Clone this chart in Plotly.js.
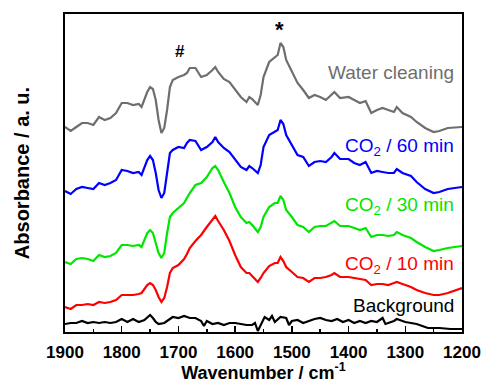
<!DOCTYPE html>
<html><head><meta charset="utf-8">
<script src="https://cdn.plot.ly/plotly-3.0.1.min.js"></script>
<style>html,body{margin:0;padding:0;background:#fff}#plot{width:482px;height:383px}</style>
</head><body><div id="plot"></div>
<script>
const waveWater = [1900,1890,1880,1870,1860,1850,1840,1830,1820,1810,1800,1790,1780,1770,1765,1755,1750,1745,1740,1735,1730,1725,1720,1715,1710,1700,1690,1685,1680,1670,1660,1650,1640,1635,1630,1620,1610,1600,1590,1580,1575,1570,1560,1555,1550,1540,1530,1525,1520,1515,1510,1500,1490,1480,1470,1460,1450,1440,1430,1425,1415,1400,1390,1380,1370,1360,1350,1340,1330,1320,1315,1305,1290,1280,1265,1250,1240,1225,1200];
const waterCleaning = [205,201,205,209,209,207,215,212,214,219,229,229,227,228,225,240,245,243,232,212,199,204,222,245,252,255,257,259,264,264,255,257,262,265,260,253,250,242,235,230,235,233,227,237,255,270,275,277,289,285,272,260,249,242,234,237,235,232,237,240,234,235,232,229,231,219,222,224,222,220,225,219,215,210,204,200,201,204,205];
const co2_60 = [141,138,143,145,144,143,149,147,149,152,162,161,159,160,157,172,176,172,159,142,134,139,159,179,182,185,184,189,192,191,182,185,190,195,190,184,180,172,165,162,166,164,159,167,185,197,200,202,212,208,197,187,177,175,166,170,171,170,175,179,173,173,169,167,170,159,161,160,159,159,163,159,156,150,143,139,140,143,145];
const co2_30 = [70,68,73,74,73,71,77,75,76,79,87,87,86,87,85,99,102,99,89,79,74,79,99,115,119,124,129,134,139,147,149,155,164,166,162,150,139,125,115,109,110,107,100,105,115,125,129,129,136,132,122,115,107,105,100,105,106,106,109,111,106,106,104,102,104,95,97,97,96,97,100,97,94,90,85,81,82,84,86];
const co2_10 = [25,23,27,27,28,27,30,29,30,32,37,37,37,38,39,47,49,47,42,35,30,34,45,59,64,67,73,78,84,91,97,105,112,116,111,102,91,77,65,59,59,56,50,54,59,66,69,69,75,71,65,60,55,54,50,54,54,55,57,59,55,55,54,53,52,47,48,48,47,49,50,48,45,42,39,37,37,39,44];
const waveBg = [1900,1890,1880,1870,1860,1850,1840,1830,1820,1810,1800,1790,1780,1770,1760,1750,1745,1740,1735,1725,1715,1710,1700,1690,1680,1670,1660,1655,1650,1640,1630,1620,1610,1600,1590,1580,1570,1565,1560,1555,1548,1540,1535,1530,1520,1510,1505,1500,1490,1480,1470,1460,1450,1440,1430,1420,1410,1400,1390,1380,1370,1360,1350,1340,1335,1320,1315,1300,1290,1280,1270,1260,1240,1220,1200];
const background = [8,9,9,11,9,10,9,10,9,10,13,10,13,10,12,17,14,10,8,9,13,15,14,16,14,14,11,6,11,8,9,7,9,9,8,7,7,9,1,7,15,12,16,10,15,14,7,11,12,9,11,13,14,12,11,13,10,12,9,11,9,11,10,14,8,11,13,10,9,8,6,4,4,3,3];

const labels = ["Water cleaning","CO<sub>2</sub> / 60 min","CO<sub>2</sub> / 30 min","CO<sub>2</sub> / 10 min","Background"];
const colors = ["#6e6e6e","#0000ff","#00e600","#ff0000","#000000"];
const labelY = [260,185,126,67,27];

const series = [waterCleaning, co2_60, co2_30, co2_10, background];
const xs = [waveWater, waveWater, waveWater, waveWater, waveBg];

const traces = series.map((s,i)=>({x:xs[i], y:s, type:'scatter', mode:'lines', line:{color:colors[i], width:2.2}, hoverinfo:'skip'}));

const ann = labels.map((t,i)=>({x:1210, y:labelY[i], xref:'x', yref:'y', text:t, showarrow:false, xanchor:'right', yanchor:'middle', font:{family:'Arial, Liberation Sans', size:19, color:colors[i]}}));
ann.push({x:1697, y:281, xref:'x', yref:'y', text:'<b>#</b>', showarrow:false, font:{family:'Arial, Liberation Sans', size:17, color:'#000'}});
ann.push({x:1521, y:303, xref:'x', yref:'y', text:'<b>*</b>', showarrow:false, font:{family:'Arial, Liberation Sans', size:22, color:'#000'}});

const layout = {
  width:482, height:383,
  margin:{l:65, r:20, t:14, b:51},
  paper_bgcolor:'#fff', plot_bgcolor:'#fff',
  showlegend:false,
  font:{family:'Arial, Liberation Sans', color:'#000'},
  xaxis:{range:[1900,1200], showgrid:false, zeroline:false, showline:true, linecolor:'#000', linewidth:2, mirror:true,
    ticks:'inside', ticklen:6, tickwidth:1.5, tickcolor:'#000', dtick:100, tick0:1200,
    minor:{ticks:'inside', ticklen:3, tickwidth:1.5, tickcolor:'#000', dtick:50},
    ticklabelstandoff:4,
    tickfont:{size:17, family:'Arial, Liberation Sans', color:'#000', weight:'bold'},
    title:{text:'<b>Wavenumber / cm<sup>-1</sup></b>', font:{size:18, color:'#000'}, standoff:6}},
  yaxis:{range:[0,318], showgrid:false, zeroline:false, showline:true, linecolor:'#000', linewidth:2, mirror:true,
    ticks:'', showticklabels:false,
    title:{text:'<b>Absorbance / a. u.</b>', font:{size:20, color:'#000'}, standoff:28}},
  annotations:ann
};
Plotly.newPlot('plot', traces, layout, {staticPlot:true, displayModeBar:false});
</script></body></html>
